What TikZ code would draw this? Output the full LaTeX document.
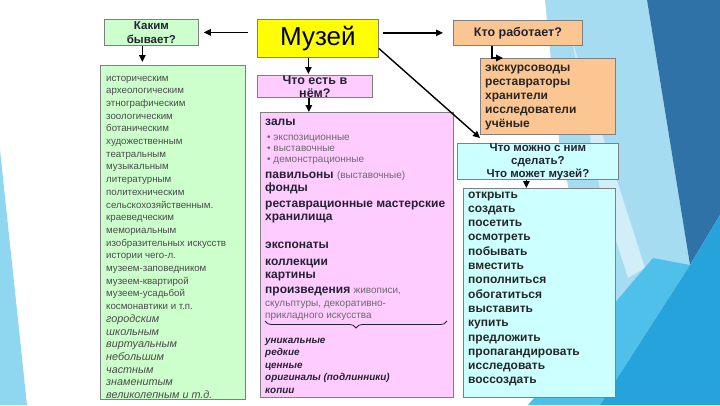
\documentclass[tikz,border=0pt]{standalone}
\usepackage{fontspec}
\setmainfont{Liberation Sans}
\usetikzlibrary{arrows.meta,decorations.pathreplacing,calc}
\definecolor{boxgray}{HTML}{7F7F7F}
\definecolor{cgreen}{HTML}{CCFFCC}
\definecolor{cyellow}{HTML}{FFFF00}
\definecolor{cpink}{HTML}{FFCCFF}
\definecolor{corange}{HTML}{FCC692}
\definecolor{ccyan}{HTML}{CCFFFF}
\definecolor{gtext}{HTML}{4A4A4A}
\definecolor{stext}{HTML}{6A6A6A}
\definecolor{btext}{HTML}{222233}
\definecolor{bgA}{HTML}{8FD6F0}
\definecolor{bgL}{HTML}{A6DCF2}
\definecolor{bgW}{HTML}{D2EEF9}
\definecolor{bgD}{HTML}{2E72A8}
\definecolor{bgM}{HTML}{4FC0EA}
\definecolor{bgB}{HTML}{27A3DC}
\begin{document}
\begin{tikzpicture}[x=1pt,y=-1pt,
  box/.style={draw=boxgray, line width=0.8pt, anchor=north west, inner sep=0pt},
  arr/.style={-{Triangle[length=7pt,width=6.5pt]}, line width=1.4pt, black},
  gtxt/.style={anchor=base west, inner sep=0pt, text=gtext, font=\fontsize{9.7}{12}\selectfont},
  gitx/.style={anchor=base west, inner sep=0pt, text=gtext, font=\fontsize{10.8}{12}\selectfont\itshape},
  btxt/.style={anchor=base west, inner sep=0pt, text=btext, font=\fontsize{12}{14}\selectfont\bfseries},
  stxt/.style={anchor=base west, inner sep=0pt, text=stext, font=\fontsize{10}{12}\selectfont},
  itxt/.style={anchor=base west, inner sep=0pt, text=btext, font=\fontsize{9.9}{12}\selectfont\bfseries\itshape},
  ltxt/.style={anchor=base west, inner sep=0pt, text=black!85, font=\fontsize{12}{14}\selectfont\bfseries}
]
\useasboundingbox (0,0) rectangle (720,405);
\fill[white] (0,0) rectangle (720,405);
% background facets
\fill[bgA] (0,150) -- (27,405) -- (0,405) -- cycle;
\fill[bgL] (545,0) -- (647,0) -- (690,265) -- (600,330) -- (560,150) -- cycle;
\fill[bgW] (572,40) -- (645,268) -- (628,278) -- (600,190) -- cycle;
\fill[bgD] (647,0) -- (720,0) -- (720,215) -- (690,265) -- cycle;
\fill[bgM] (528,405) -- (653,258) -- (690,265) -- (600,405) -- cycle;
\fill[bgB] (690,265) -- (720,215) -- (720,405) -- (600,405) -- cycle;

% boxes
\node[box, fill=cgreen, minimum width=94pt, minimum height=26pt, align=center,
  font=\fontsize{11.5}{14}\selectfont\bfseries, text=btext] (kakim) at (104,19) {Каким\\бывает?};
\node[box, fill=cyellow, minimum width=121pt, minimum height=38pt,
  font=\fontsize{26}{30}\selectfont] (muzej) at (257,19) {Музей};
\node[box, fill=cpink, minimum width=115pt, minimum height=22pt, align=center,
  font=\fontsize{12.5}{13}\selectfont\bfseries, text=btext] (chto) at (257,75) {Что есть в\\нём?};
\node[box, fill=corange, minimum width=129pt, minimum height=25pt,
  font=\fontsize{12.5}{14}\selectfont\bfseries, text=btext] (kto) at (453,20) {Кто работает?};
\node[box, fill=cgreen, minimum width=145pt, minimum height=334pt] (green) at (100,65) {};
\node[box, fill=cpink, minimum width=193pt, minimum height=285pt] (pinkbig) at (260,112) {};
\node[box, fill=corange, minimum width=135pt, minimum height=76pt] (ktolist) at (480,58) {};
\node[box, fill=ccyan, minimum width=161pt, minimum height=32pt, align=center,
  font=\fontsize{11.5}{13}\selectfont\bfseries, text=btext] (cyanhead) at (457,143) {Что можно с ним\\сделать?\\Что может музей?};
\node[box, fill=ccyan, minimum width=152pt, minimum height=209pt] (cyanlist) at (463,188) {};

% green list
\foreach \t [count=\i] in {историческим,археологическим,этнографическим,зоологическим,ботаническим,художественным,театральным,музыкальным,литературным,политехническим,сельскохозяйственным.,краеведческим,мемориальным,изобразительных искусств,истории чего-л.,музеем-заповедником,музеем-квартирой,музеем-усадьбой,космонавтики и т.п.}
  \node[gtxt] (g\i) at (106,{81+12.7*(\i-1)}) {\t};
\foreach \t [count=\i from 20] in {городским,школьным,виртуальным,небольшим,частным,знаменитым,великолепным и т.д.}
  \node[gitx] (g\i) at (106,{81+12.7*(\i-1)}) {\t};

% orange list
\foreach \t [count=\i] in {экскурсоводы,реставраторы,хранители,исследователи,учёные}
  \node[ltxt] (o\i) at (485,{71+14.2*(\i-1)}) {\t};

% cyan list
\foreach \t [count=\i] in {открыть,создать,посетить,осмотреть,побывать,вместить,пополниться,обогатиться,выставить,купить,предложить,пропагандировать,исследовать,воссоздать}
  \node[ltxt] (c\i) at (468,{198+14.3*(\i-1)}) {\t};

% pink list
\node[btxt] (p1) at (265,125) {залы};
\node[stxt] (p2) at (267,140) {• экспозиционные};
\node[stxt] (p3) at (267,151) {• выставочные};
\node[stxt] (p4) at (267,162) {• демонстрационные};
\node[btxt] (p5) at (265,178) {павильоны {\mdseries\color{stext}\fontsize{10}{12}\selectfont (выставочные)}};
\node[btxt] (p6) at (265,191) {фонды};
\node[btxt] (p7) at (265,207) {реставрационные мастерские};
\node[btxt] (p8) at (265,220) {хранилища};
\node[btxt] (p9) at (265,248) {экспонаты};
\node[btxt] (p10) at (265,265) {коллекции};
\node[btxt] (p11) at (265,278) {картины};
\node[btxt] (p12) at (265,293) {произведения {\mdseries\color{stext}\fontsize{10}{12}\selectfont живописи,}};
\node[stxt] (p13) at (265,306) {скульптуры, декоративно-};
\node[stxt] (p14) at (265,318) {прикладного искусства};
\node[itxt] (p15) at (265,343) {уникальные};
\node[itxt] (p16) at (265,355) {редкие};
\node[itxt] (p17) at (265,368) {ценные};
\node[itxt] (p18) at (265,380) {оригиналы (подлинники)};
\node[itxt] (p19) at (265,393) {копии};
\coordinate (bl) at (265,321);
\coordinate (br) at (447,321);
\draw[line width=0.8pt, btext, decorate, decoration={brace, mirror, amplitude=7pt}] (bl) -- (br);

% connectors
\draw[arr, shorten <=9pt, shorten >=5pt] (muzej.west |- kakim.east) -- (kakim.east);
\draw[arr, shorten <=4pt, shorten >=10pt] (muzej.east |- kto.west) -- (kto.west);
\draw[arr, shorten >=3pt] ([xshift=-9pt]kakim.south) -- ([xshift=-9pt]kakim.south |- green.north);
\draw[arr, shorten >=1pt] ([xshift=-9.5pt]muzej.south) -- ([xshift=-9.5pt]muzej.south |- chto.north);
\draw[arr] ([xshift=-6pt]chto.south) -- ([xshift=-6pt]chto.south |- pinkbig.north);
\draw[arr] ([yshift=-10pt]muzej.east) -- ([xshift=23pt,yshift=5pt]cyanhead.north west);
\draw[arr, line width=2pt] ([xshift=-25.5pt]kto.south) |- ([xshift=23pt]ktolist.north west);
\draw[arr] ([xshift=-11.5pt]cyanhead.south) -- ([xshift=-11.5pt]cyanhead.south |- cyanlist.north);
\end{tikzpicture}
\end{document}
